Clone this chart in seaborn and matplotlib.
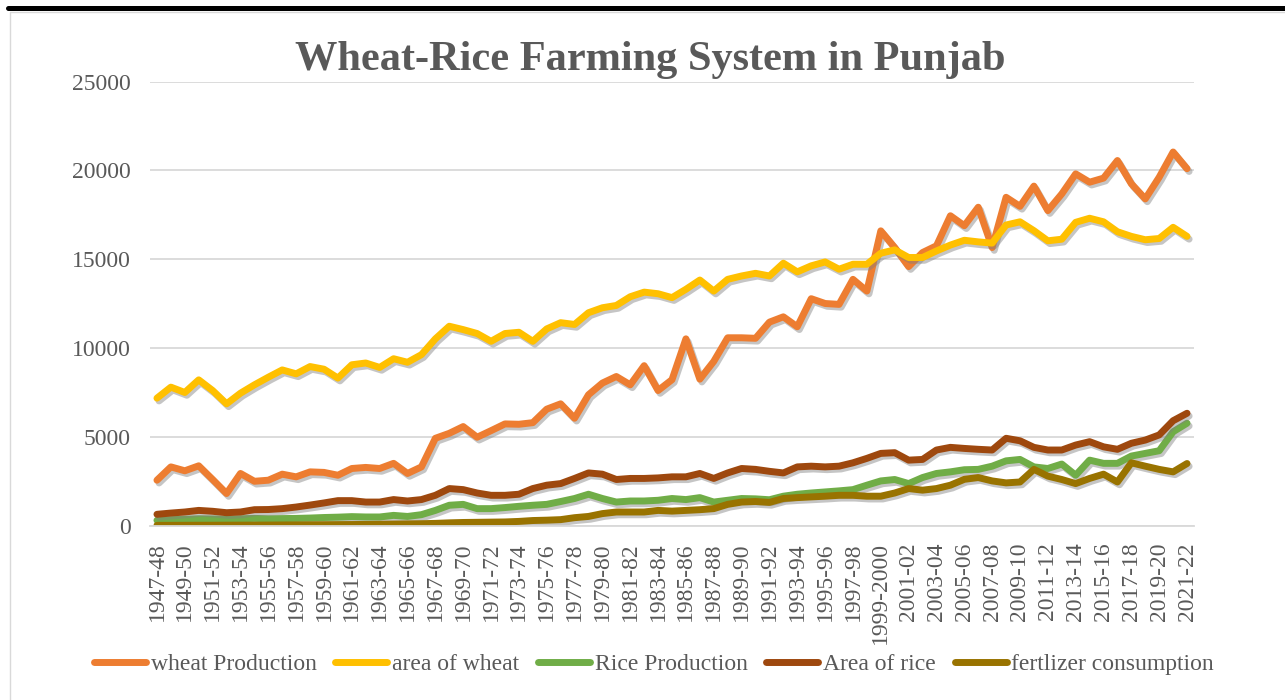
import matplotlib
matplotlib.use("Agg")
import matplotlib.pyplot as plt
import matplotlib.patheffects as pe
from matplotlib.lines import Line2D
import seaborn as sns
import numpy as np

# seasons 1947-48 ... 2021-22
start_years = list(range(1947, 2022))
seasons = ["1999-2000" if y == 1999 else f"{y}-{str(y + 1)[-2:]}" for y in start_years]

wheat_production = [
    2550, 3300, 3080, 3360, 2590, 1800, 2930, 2490, 2550, 2890,
    2740, 3020, 2990, 2830, 3210, 3270, 3210, 3500, 2930, 3300,
    4910, 5190, 5570, 4970, 5340, 5720, 5700, 5790, 6550, 6850,
    6040, 7360, 8020, 8390, 7920, 9000, 7600, 8210, 10510, 8240,
    9240, 10570, 10570, 10540, 11450, 11750, 11190, 12770, 12500, 12450,
    13860, 13200, 16590, 15650, 14580, 15370, 15750, 17440, 16880, 17920,
    15650, 18480, 17970, 19110, 17730, 18670, 19800, 19330, 19560, 20550,
    19240, 18390, 19610, 21030, 20090,
]
area_of_wheat = [
    7170, 7790, 7490, 8200, 7600, 6850, 7450, 7920, 8350, 8760,
    8540, 8950, 8800, 8300, 9050, 9150, 8900, 9390, 9190, 9620,
    10510, 11220, 11030, 10810, 10370, 10810, 10880, 10370, 11070, 11420,
    11320, 11980, 12260, 12390, 12880, 13140, 13050, 12830, 13300, 13820,
    13200, 13860, 14050, 14200, 14050, 14770, 14280, 14620, 14840, 14430,
    14710, 14710, 15330, 15520, 15090, 15090, 15460, 15790, 16060, 15970,
    15900, 16920, 17100, 16600, 16030, 16120, 17070, 17300, 17100, 16540,
    16280, 16090, 16160, 16790, 16280,
]
rice_production = [
    290, 330, 350, 380, 370, 350, 380, 400, 380, 390,
    400, 420, 450, 470, 500, 480, 480, 570, 510, 610,
    850, 1140, 1190, 950, 950, 1010, 1080, 1140, 1190, 1350,
    1520, 1760, 1520, 1320, 1380, 1380, 1420, 1520, 1460, 1570,
    1320, 1420, 1520, 1500, 1450, 1650, 1760, 1830, 1890, 1950,
    2020, 2270, 2510, 2590, 2360, 2700, 2930, 3020, 3140, 3160,
    3340, 3640, 3720, 3300, 3210, 3460, 2830, 3680, 3500, 3500,
    3910, 4060, 4210, 5280, 5760,
]
area_of_rice = [
    630, 700, 760, 850, 800, 720, 760, 890, 900, 950,
    1040, 1150, 1270, 1400, 1400, 1320, 1320, 1460, 1380, 1460,
    1700, 2080, 2020, 1830, 1700, 1700, 1760, 2080, 2270, 2360,
    2650, 2960, 2890, 2590, 2650, 2650, 2680, 2740, 2740, 2930,
    2650, 2960, 3210, 3160, 3050, 2960, 3300, 3340, 3300, 3340,
    3530, 3780, 4060, 4100, 3680, 3720, 4250, 4400, 4340, 4290,
    4250, 4910, 4770, 4400, 4250, 4250, 4530, 4720, 4430, 4290,
    4630, 4810, 5100, 5900, 6320,
]
fertilizer_consumption = [
    10, 10, 12, 15, 15, 18, 20, 22, 25, 30,
    35, 40, 45, 50, 55, 60, 70, 80, 90, 100,
    120, 150, 170, 180, 190, 200, 230, 280, 300, 330,
    440, 510, 670, 760, 760, 760, 850, 810, 850, 890,
    950, 1190, 1320, 1350, 1300, 1520, 1570, 1610, 1650, 1700,
    1700, 1650, 1650, 1830, 2080, 1990, 2080, 2270, 2600, 2700,
    2510, 2400, 2450, 3160, 2780, 2590, 2360, 2650, 2890, 2450,
    3530, 3340, 3160, 3020, 3490,
]

series = [
    ("wheat Production", wheat_production, "#ED7D31"),
    ("area of wheat", area_of_wheat, "#FFC000"),
    ("Rice Production", rice_production, "#70AD47"),
    ("Area of rice", area_of_rice, "#9E480E"),
    ("fertlizer consumption", fertilizer_consumption, "#997300"),
]

sns.set_style("white")
plt.rcParams["font.family"] = ["Liberation Serif", "DejaVu Serif"]
text_gray = "#595959"
grid_gray = "#d9d9d9"

fig = plt.figure(figsize=(12.85, 7.0), dpi=100)
ax = fig.add_axes([150 / 1285, 174.5 / 700, 1044 / 1285, 444 / 700])

x = np.arange(len(seasons))
shadow = [pe.SimpleLineShadow(offset=(1.5, -2.0), shadow_color="#808080", alpha=0.45), pe.Normal()]
for name, values, color in series:
    sns.lineplot(x=x, y=values, ax=ax, color=color, lw=5, legend=False,
                 solid_capstyle="round", solid_joinstyle="round", path_effects=shadow)

ax.set_xlim(-0.5, len(seasons) - 0.5)
ax.set_ylim(0, 25000)
ax.set_yticks(range(0, 25001, 5000))
ax.set_xticks(x[::2])
ax.set_xticklabels(seasons[::2], rotation=90)
ax.tick_params(axis="x", length=0, pad=12, labelsize=17, labelcolor=text_gray)
ax.tick_params(axis="y", length=0, pad=14, labelsize=17, labelcolor=text_gray)
ax.set_xlabel("")
ax.set_ylabel("")
ax.grid(axis="y", color=grid_gray, lw=1.3)
ax.set_axisbelow(True)
for side in ["left", "top", "right"]:
    ax.spines[side].set_visible(False)
ax.spines["bottom"].set_color(grid_gray)
ax.spines["bottom"].set_linewidth(1.3)

fig.text(650 / 1285, 1 - 60 / 700, "Wheat-Rice Farming System in Punjab",
         ha="center", va="center", fontsize=30.5, fontweight="bold", color=text_gray)

handles = [Line2D([0], [0], color=c, lw=5, solid_capstyle="round") for _, _, c in series]
fig.legend(handles, [n for n, _, _ in series], loc="center",
           bbox_to_anchor=(654 / 1285, 1 - 664 / 700), ncol=5, frameon=False,
           fontsize=17, labelcolor=text_gray, handlelength=2.2,
           handletextpad=0.2, columnspacing=0.8)

# page decoration: black rule above and light frame around the chart
fig.add_artist(Line2D([8 / 1285, 1], [1 - 8 / 700] * 2, color="black", lw=3.6))
fig.add_artist(Line2D([10 / 1285, 10 / 1285], [0, 1 - 12 / 700], color=grid_gray, lw=1))
fig.add_artist(Line2D([10 / 1285, 1], [1 - 12 / 700] * 2, color=grid_gray, lw=1))

fig.savefig("out.png", dpi=100)
